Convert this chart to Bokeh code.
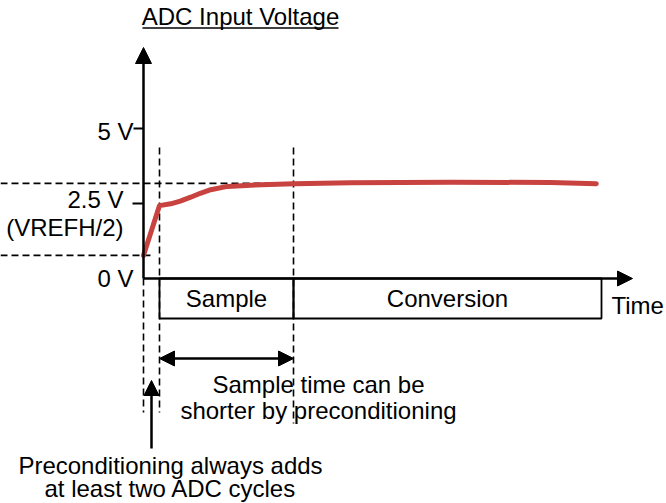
from bokeh.plotting import figure
from bokeh.models import Range1d, Arrow, NormalHead
from bokeh.core.properties import value
from bokeh.embed import file_html
from bokeh.resources import INLINE

# ---- data (time in ADC cycles, voltage in V) ----
t_cycles = [0, 2.0, 3.4, 4.6, 5.9, 7.1, 8.4, 10.5, 13.4, 18.8, 25.9, 38.4, 50.9, 56.6]
v_input = [0.77, 2.43, 2.49, 2.58, 2.71, 2.84, 2.96, 3.07, 3.11, 3.16, 3.19, 3.21, 3.20, 3.16]
phase_labels = ["Sample", "Conversion"]
phase_start = [2.0, 18.75]
phase_end = [18.75, 57.25]
precond_end = 2.0
v_ticks = [0, 2.5, 5]
v_tick_labels = ["0 V", "2.5 V", "5 V"]
v_start = 0.77
v_settled = 3.17
title = "ADC Input Voltage"
time_label = "Time"
sample_note = ["Sample time can be", "shorter by preconditioning"]
precond_note = ["Preconditioning always adds", "at least two ADC cycles"]

# ---- layout helpers (screen pixels -> data units) ----
PX_PER_CYCLE = 8.0
PX_PER_VOLT = 30.0
X0, Y0 = 143.0, 278.0
TEXT_DY = -8.0   # renderer places alphabetic baseline lower; compensate
def T(px):
    return (px - X0) / PX_PER_CYCLE
def V(py):
    return (Y0 - py) / PX_PER_VOLT
def VT(py):
    return V(py + TEXT_DY)

W, H = 666, 503
p = figure(width=W, height=H, output_backend="svg", toolbar_location=None,
           x_range=Range1d(T(0), T(W)), y_range=Range1d(V(H), V(0)),
           min_border=0, min_border_left=0, min_border_right=0,
           min_border_top=0, min_border_bottom=0)
p.axis.visible = False
p.grid.visible = False
p.outline_line_color = None
p.background_fill_color = "white"
p.border_fill_color = "white"

FONT = value("Liberation Sans")
FS = "24px"
INK = "#000000"
DASH = "7 4"
DW = 1.6

# dashed guide lines
p.segment(x0=[T(0)], y0=[v_settled], x1=[phase_start[1]], y1=[v_settled],
          line_color=INK, line_width=DW, line_dash=DASH)
p.segment(x0=[T(0)], y0=[v_start], x1=[T(153)], y1=[v_start],
          line_color=INK, line_width=DW, line_dash=DASH)
p.segment(x0=[0], y0=[0], x1=[0], y1=[V(412)],
          line_color=INK, line_width=DW, line_dash=DASH)
p.segment(x0=[precond_end], y0=[V(147)], x1=[precond_end], y1=[V(412)],
          line_color=INK, line_width=DW, line_dash=DASH)
p.segment(x0=[phase_start[1]], y0=[V(147)], x1=[phase_start[1]], y1=[V(423)],
          line_color=INK, line_width=DW, line_dash=DASH)

# phase boxes
box_bottom = V(318)
p.quad(left=phase_start, right=phase_end, top=[0, 0], bottom=[box_bottom, box_bottom],
       fill_color=None, line_color=INK, line_width=1.8)
p.text(x=[(a + b) / 2 for a, b in zip(phase_start, phase_end)], y=[VT(306)] * 2,
       text=phase_labels, text_font=FONT, text_font_size=FS, text_color=INK,
       text_align="center", text_baseline="alphabetic")

# axes with arrows
p.add_layout(Arrow(end=NormalHead(size=16, fill_color=INK, line_color=INK),
                   x_start=0, y_start=0, x_end=0, y_end=V(47),
                   line_color=INK, line_width=2.5))
p.add_layout(Arrow(end=NormalHead(size=15, fill_color=INK, line_color=INK),
                   x_start=0, y_start=0, x_end=T(632), y_end=0,
                   line_color=INK, line_width=2.5))

# y ticks (5 V and 2.5 V)
p.segment(x0=[T(133), T(132)], y0=[v_ticks[2], v_ticks[1]], x1=[0, 0], y1=[v_ticks[2], v_ticks[1]],
          line_color=INK, line_width=1.8)

# tick labels
p.text(x=[T(133), T(123), T(133)], y=[VT(286), VT(206.5), VT(139)],
       text=[v_tick_labels[0], v_tick_labels[1], v_tick_labels[2]],
       text_font=FONT, text_font_size=FS, text_color=INK,
       text_align="right", text_baseline="alphabetic")
p.text(x=[T(123)], y=[VT(235)], text=["(VREFH/2)"],
       text_font=FONT, text_font_size=FS, text_color=INK,
       text_align="right", text_baseline="alphabetic")

# curve
p.line(t_cycles, v_input, line_color="#c8423f", line_width=5, line_join="round", line_cap="round")

# title (underlined)
p.text(x=[T(240)], y=[VT(24)], text=[title], text_font=FONT, text_font_size=FS,
       text_color=INK, text_align="center", text_baseline="alphabetic")
p.segment(x0=[T(142)], y0=[V(27.5)], x1=[T(338)], y1=[V(27.5)], line_color=INK, line_width=1.5)

# time label
p.text(x=[T(611)], y=[VT(313)], text=[time_label], text_font=FONT, text_font_size=FS,
       text_color=INK, text_align="left", text_baseline="alphabetic")

# sample-time double arrow
p.add_layout(Arrow(start=NormalHead(size=15, fill_color=INK, line_color=INK),
                   end=NormalHead(size=15, fill_color=INK, line_color=INK),
                   x_start=precond_end, y_start=V(358), x_end=phase_start[1], y_end=V(358),
                   line_color=INK, line_width=2.5))
p.text(x=[T(318)] * 2, y=[VT(392), VT(418)], text=sample_note, text_font=FONT,
       text_font_size=FS, text_color=INK, text_align="center", text_baseline="alphabetic")

# preconditioning arrow
p.add_layout(Arrow(end=NormalHead(size=15, fill_color=INK, line_color=INK),
                   x_start=precond_end / 2, y_start=V(448), x_end=precond_end / 2, y_end=V(380),
                   line_color=INK, line_width=2.5))
p.text(x=[T(170)] * 2, y=[VT(473), VT(496)], text=precond_note, text_font=FONT,
       text_font_size=FS, text_color=INK, text_align="center", text_baseline="alphabetic")

open("out.html", "w").write(file_html(p, INLINE))
